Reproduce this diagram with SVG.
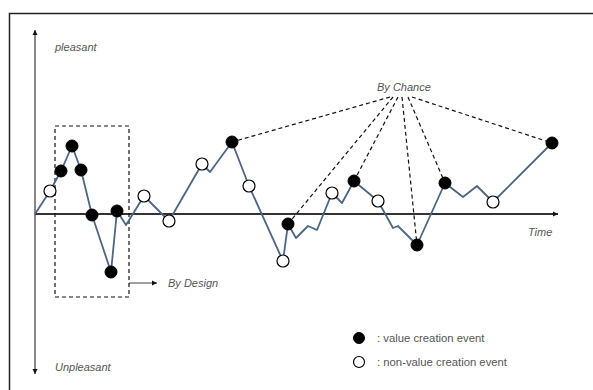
<svg xmlns="http://www.w3.org/2000/svg" width="593" height="390" viewBox="0 0 593 390">
<style>
.t{font-family:"Liberation Sans","DejaVu Sans",sans-serif;font-style:italic;font-size:11px;fill:#555}
.lg{font-family:"Liberation Sans","DejaVu Sans",sans-serif;font-size:11.3px;fill:#555}
.f{fill:#000;stroke:#000;stroke-width:1}
.o{fill:#fff;stroke:#000;stroke-width:1.2}
.d{fill:none;stroke:#111;stroke-width:1.2;stroke-dasharray:4 3}
.ax{stroke:#111;stroke-width:1;fill:none}
</style>
<defs>
<marker id="ah" markerWidth="6" markerHeight="6" refX="5" refY="3" orient="auto" markerUnits="userSpaceOnUse">
<path d="M0,0.5 L5,3 L0,5.5 Z" fill="#111"/>
</marker>
</defs>
<rect x="0" y="0" width="593" height="390" fill="#fff"/>
<rect x="9.5" y="13.5" width="600" height="400" fill="none" stroke="#222" stroke-width="1.5"/>
<g id="connectors">
<line class="ax" x1="35" y1="214" x2="35" y2="30" marker-end="url(#ah)"/>
<line class="ax" x1="35" y1="214" x2="35" y2="374" marker-end="url(#ah)"/>
<line x1="35" y1="214" x2="558" y2="214" stroke="#333" stroke-width="1.8" marker-end="url(#ah)"/>
<rect class="d" x="55" y="126" width="74" height="171"/>
<line x1="129" y1="283" x2="157" y2="283" stroke="#111" stroke-width="0.8" marker-end="url(#ah)"/>
<polyline fill="none" stroke="#4d6584" stroke-width="1.8" stroke-linejoin="round" points="35,214 50,191 61,171 72,146 81,170 92,215 111,272 117,211 126,225 144,196 169,221 202,164 210,172 232,142 249,186 283,261 288,224 296,238 308,226 317,230 332,193 342,203 354,181 378,201 393,228 398,226 417,245 445,183 463,197 477,186 493,202 552,143"/>
<g class="d">
<line x1="390" y1="97" x2="232" y2="142"/>
<line x1="393" y1="97" x2="288" y2="224"/>
<line x1="398" y1="97" x2="354" y2="181"/>
<line x1="402" y1="97" x2="417" y2="245"/>
<line x1="408" y1="97" x2="445" y2="183"/>
<line x1="412" y1="97" x2="552" y2="143"/>
</g>
</g>
<g id="p1"><circle class="o" cx="50" cy="191" r="6"/></g>
<g id="p2"><circle class="f" cx="61" cy="171" r="6"/></g>
<g id="p3"><circle class="f" cx="72" cy="146" r="6"/></g>
<g id="p4"><circle class="f" cx="81" cy="170" r="6"/></g>
<g id="p5"><circle class="f" cx="92" cy="215" r="6"/></g>
<g id="p6"><circle class="f" cx="111" cy="272" r="6"/></g>
<g id="p7"><circle class="f" cx="117" cy="211" r="6"/></g>
<g id="p8"><circle class="o" cx="144" cy="196" r="6"/></g>
<g id="p9"><circle class="o" cx="169" cy="221" r="6"/></g>
<g id="p10"><circle class="o" cx="202" cy="164" r="6"/></g>
<g id="p11"><circle class="f" cx="232" cy="142" r="6"/></g>
<g id="p12"><circle class="o" cx="249" cy="186" r="6"/></g>
<g id="p13"><circle class="o" cx="283" cy="261" r="6"/></g>
<g id="p14"><circle class="f" cx="288" cy="224" r="6"/></g>
<g id="p15"><circle class="o" cx="332" cy="193" r="6"/></g>
<g id="p16"><circle class="f" cx="354" cy="181" r="6"/></g>
<g id="p17"><circle class="o" cx="378" cy="201" r="6"/></g>
<g id="p18"><circle class="f" cx="417" cy="245" r="6"/></g>
<g id="p19"><circle class="f" cx="445" cy="183" r="6"/></g>
<g id="p20"><circle class="o" cx="493" cy="202" r="6"/></g>
<g id="p21"><circle class="f" cx="552" cy="143" r="6"/></g>
<g id="labels">
<text class="t" x="55" y="51">pleasant</text>
<text class="t" x="55" y="371">Unpleasant</text>
<text class="t" x="528" y="236">Time</text>
<text class="t" x="377" y="91">By Chance</text>
<text class="t" x="168" y="287">By Design</text>
</g>
<g id="legend">
<circle class="f" cx="359" cy="338" r="5.5"/>
<text class="lg" x="377" y="342">: value creation event</text>
<circle class="o" cx="359" cy="362" r="5.5"/>
<text class="lg" x="377" y="366">: non-value creation event</text>
</g>
</svg>
